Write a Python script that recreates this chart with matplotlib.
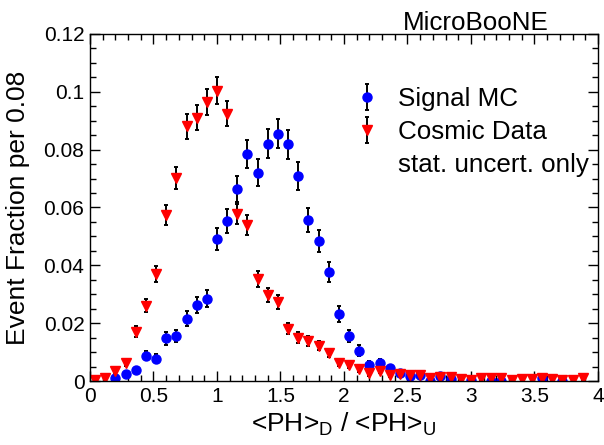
import numpy as np
import matplotlib
matplotlib.use("Agg")
import matplotlib.pyplot as plt
from matplotlib.lines import Line2D
from matplotlib.ticker import MultipleLocator, FuncFormatter

plt.rcParams['font.family'] = ['Liberation Sans', 'DejaVu Sans']
plt.rcParams['mathtext.fontset'] = 'custom'
plt.rcParams['mathtext.rm'] = 'Liberation Sans'
plt.rcParams['mathtext.it'] = 'Liberation Sans:italic'

nan = float('nan')

# binning of <PH>_D / <PH>_U : 50 bins of 0.08 from 0 to 4
bin_width = 0.08
n_bins = 50
bin_centers = (np.arange(n_bins) + 0.5) * bin_width

# signal MC (nan = no point drawn)
signal_mc = [nan, nan, 0.0011, 0.0023, 0.0038, 0.0087, 0.0077, 0.0147, 0.0156, 0.0215,
             0.0263, 0.0284, 0.0491, 0.0554, 0.0664, 0.0785, 0.0720, 0.0820, 0.0855, 0.0819,
             0.0709, 0.0557, 0.0484, 0.0377, 0.0232, 0.0156, 0.0105, 0.0055, 0.0063, 0.0044,
             0.0027, 0.0017, 0.0020, 0.0000, 0.0017, 0.0006, nan, 0.0003, nan, 0.0000,
             0.0000, nan, nan, nan, 0.0010, nan, 0.0000, nan, nan, nan]
signal_err = [nan, nan, 0.0006, 0.0008, 0.0011, 0.0016, 0.0015, 0.0021, 0.0022, 0.0026,
              0.0028, 0.0029, 0.0039, 0.0041, 0.0045, 0.0049, 0.0047, 0.0050, 0.0051, 0.0050,
              0.0047, 0.0041, 0.0038, 0.0034, 0.0027, 0.0022, 0.0018, 0.0013, 0.0014, 0.0012,
              0.0009, 0.0007, 0.0008, 0.0000, 0.0007, 0.0004, nan, 0.0003, nan, 0.0000,
              0.0000, nan, nan, nan, 0.0006, nan, 0.0000, nan, nan, nan]

# cosmic data
cosmic_data = [0.0005, 0.0009, 0.0036, 0.0063, 0.0171, 0.0260, 0.0370, 0.0574, 0.0703, 0.0880,
               0.0911, 0.0963, 0.1004, 0.0924, 0.0578, 0.0540, 0.0353, 0.0298, 0.0274, 0.0180,
               0.0150, 0.0139, 0.0122, 0.0096, 0.0062, 0.0055, 0.0040, 0.0027, 0.0036, 0.0020,
               0.0024, 0.0020, 0.0020, 0.0009, 0.0015, 0.0015, 0.0006, 0.0003, 0.0009, 0.0011,
               0.0009, 0.0003, 0.0006, 0.0006, 0.0009, 0.0006, 0.0003, 0.0003, 0.0009, nan]
cosmic_err = [0.0003, 0.0004, 0.0009, 0.0012, 0.0019, 0.0023, 0.0028, 0.0035, 0.0038, 0.0043,
              0.0044, 0.0045, 0.0046, 0.0044, 0.0035, 0.0034, 0.0027, 0.0025, 0.0024, 0.0019,
              0.0018, 0.0017, 0.0016, 0.0014, 0.0011, 0.0011, 0.0009, 0.0008, 0.0009, 0.0006,
              0.0007, 0.0006, 0.0006, 0.0004, 0.0006, 0.0006, 0.0004, 0.0003, 0.0004, 0.0005,
              0.0004, 0.0003, 0.0004, 0.0004, 0.0004, 0.0004, 0.0003, 0.0003, 0.0004, nan]

fig = plt.figure(figsize=(6.04, 4.45), dpi=100)
ax = fig.add_axes([0.149, 0.1438, 0.841, 0.78])

sig = ax.errorbar(bin_centers, signal_mc, yerr=signal_err, fmt='o', color='blue', ms=6.5,
                  ecolor='black', elinewidth=1.4, capsize=1.4, capthick=1.4, label='Signal MC')
cos = ax.errorbar(bin_centers, cosmic_data, yerr=cosmic_err, fmt='v', color='red', ms=6.5,
                  ecolor='black', elinewidth=1.4, capsize=1.4, capthick=1.4, label='Cosmic Data')

ax.set_xlim(0, 4)
ax.set_ylim(0, 0.12)

ax.xaxis.set_major_locator(MultipleLocator(0.5))
ax.xaxis.set_minor_locator(MultipleLocator(0.1))
ax.yaxis.set_major_locator(MultipleLocator(0.02))
ax.yaxis.set_minor_locator(MultipleLocator(0.005))
fmt = FuncFormatter(lambda v, p: '%g' % round(v, 4))
ax.xaxis.set_major_formatter(fmt)
ax.yaxis.set_major_formatter(fmt)

ax.tick_params(which='both', direction='in', top=True, right=True, width=1.0)
ax.tick_params(which='major', length=7.2, labelsize=15, pad=4)
ax.tick_params(which='minor', length=4)
for s in ax.spines.values():
    s.set_linewidth(1.0)

ax.set_xlabel(r'<PH>$_\mathrm{D}$ / <PH>$_\mathrm{U}$', fontsize=19, labelpad=4)
ax.set_ylabel('Event Fraction per 0.08', fontsize=19, labelpad=10)

blank = Line2D([], [], linestyle='none', marker='none')
leg = ax.legend([sig, cos, blank], ['Signal MC', 'Cosmic Data', 'stat. uncert. only'],
                loc='upper left', bbox_to_anchor=(0.52, 0.848), frameon=False, fontsize=18.7,
                handlelength=1.0, handletextpad=0.7, labelspacing=0.36, borderpad=0,
                borderaxespad=0)

ax.text(0.616, 1.012, 'MicroBooNE', transform=ax.transAxes, fontsize=18.7,
        ha='left', va='baseline')

fig.savefig('out.png', dpi=100)
